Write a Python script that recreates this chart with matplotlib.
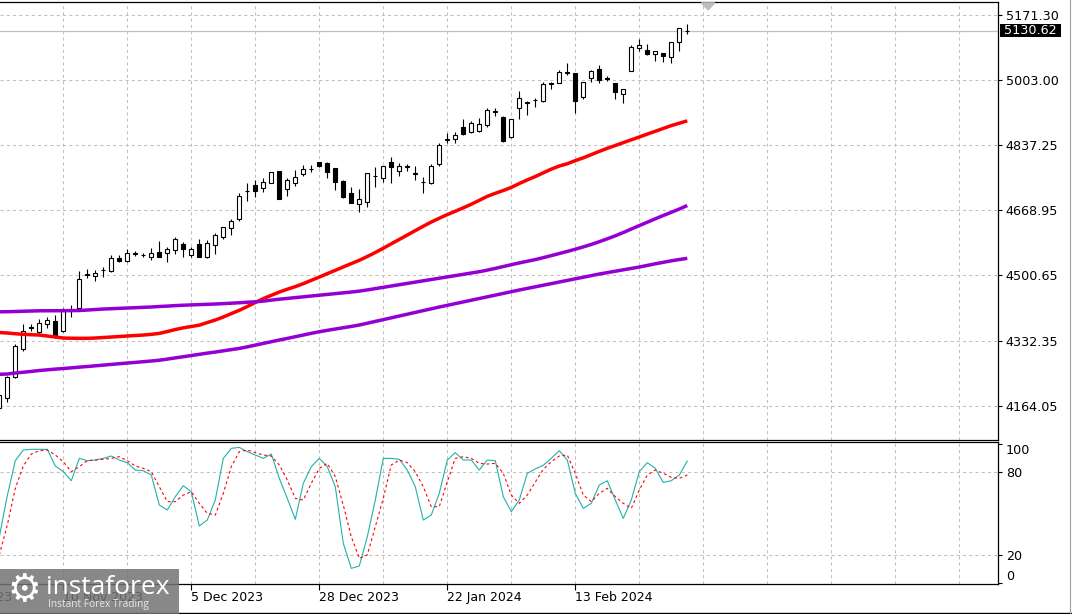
import matplotlib
matplotlib.use('Agg')
import matplotlib.pyplot as plt
from matplotlib.patches import Rectangle
import matplotlib.transforms as mtransforms
import numpy as np

# ---------------- data ----------------
opens = [4158.9, 4185.4, 4239.5, 4310.9, 4368.3, 4355.4, 4374.5, 4382.2, 4356.5, 4410.8,
         4417.3, 4502.8, 4499.7, 4513.6, 4511.8, 4546.1, 4537.6, 4556.6, 4552.2, 4547.1,
         4560.0, 4557.4, 4565.1, 4580.6, 4552.2, 4580.6, 4547.1, 4578.8, 4598.6, 4623.4,
         4646.5, 4717.4, 4734.1, 4724.8, 4739.3, 4768.6, 4722.3, 4737.7, 4761.7, 4773.8,
         4791.8, 4789.2, 4776.4, 4743.6, 4712.0, 4683.6, 4690.3, 4755.7, 4752.1, 4793.4,
         4769.4, 4779.7, 4761.7, 4740.3, 4739.3, 4786.7, 4850.3, 4852.6, 4882.0, 4870.6,
         4872.4, 4887.9, 4921.4, 4908.5, 4857.8, 4930.9, 4944.6, 4951.5, 4950.5, 4994.5,
         4996.9, 5022.9, 5021.1, 4960.8, 5008.2, 5032.2, 5009.0, 4995.3, 4968.5, 5027.8,
         5085.5, 5081.1, 5070.0, 5072.6, 5063.8, 5100.9, 5129.9]
highs = [4205.3, 4241.3, 4323.0, 4375.3, 4374.5, 4387.4, 4393.3, 4398.5, 4417.3, 4424.2,
         4512.6, 4517.0, 4514.4, 4522.9, 4553.0, 4553.0, 4568.5, 4564.1, 4558.9, 4570.3,
         4589.1, 4574.4, 4598.6, 4585.7, 4574.4, 4593.5, 4590.9, 4610.5, 4624.4, 4645.0,
         4712.0, 4737.7, 4746.2, 4750.6, 4768.1, 4769.4, 4750.6, 4772.0, 4784.9, 4784.9,
         4792.6, 4793.4, 4777.1, 4746.2, 4727.4, 4722.3, 4763.5, 4780.5, 4783.6, 4804.7,
         4790.8, 4786.7, 4782.3, 4754.7, 4787.4, 4842.3, 4866.5, 4869.1, 4903.4, 4898.2,
         4905.2, 4930.9, 4930.9, 4911.1, 4903.4, 4976.3, 4949.7, 4958.2, 4999.4, 4999.4,
         5029.6, 5046.8, 5021.9, 4997.9, 5029.6, 5042.5, 5014.1, 4996.1, 4980.6, 5094.0,
         5109.4, 5095.8, 5078.5, 5074.1, 5102.5, 5138.5, 5147.3]
lows = [4151.2, 4174.4, 4237.5, 4306.5, 4357.2, 4351.3, 4365.7, 4340.0, 4354.7, 4394.1,
        4415.2, 4494.5, 4486.8, 4497.1, 4509.2, 4535.8, 4536.3, 4550.4, 4547.1, 4539.4,
        4547.1, 4535.8, 4554.8, 4547.1, 4548.6, 4547.1, 4545.8, 4555.6, 4595.0, 4604.5,
        4641.4, 4692.9, 4703.2, 4716.1, 4738.5, 4698.0, 4705.8, 4731.5, 4757.3, 4766.1,
        4781.0, 4750.6, 4720.5, 4699.1, 4687.7, 4663.0, 4675.9, 4729.0, 4741.8, 4737.7,
        4757.3, 4770.2, 4746.2, 4713.5, 4735.1, 4782.3, 4842.3, 4842.3, 4862.9, 4866.5,
        4870.6, 4883.5, 4911.1, 4844.9, 4853.6, 4902.6, 4913.7, 4933.5, 4947.9, 4980.6,
        4996.9, 5016.7, 4918.0, 4954.9, 4997.9, 4995.3, 5002.0, 4954.9, 4943.8, 5027.3,
        5078.5, 5068.2, 5053.5, 5051.0, 5048.4, 5079.3, 5121.5]
closes = [4192.4, 4238.0, 4319.4, 4358.0, 4364.2, 4378.6, 4384.8, 4346.9, 4413.9, 4412.6,
          4490.4, 4504.6, 4505.9, 4514.9, 4546.1, 4538.3, 4557.4, 4557.9, 4553.5, 4558.2,
          4548.6, 4569.2, 4593.5, 4569.2, 4567.7, 4547.1, 4583.2, 4603.8, 4624.4, 4639.8,
          4705.0, 4718.7, 4718.7, 4741.1, 4766.8, 4698.0, 4746.2, 4753.2, 4773.8, 4775.1,
          4782.3, 4767.6, 4741.8, 4703.2, 4687.7, 4696.5, 4763.5, 4757.0, 4783.1, 4780.5,
          4783.1, 4781.3, 4763.2, 4741.8, 4782.3, 4836.4, 4851.8, 4862.9, 4864.7, 4892.3,
          4889.7, 4926.5, 4923.0, 4846.7, 4903.4, 4958.2, 4946.1, 4952.8, 4992.7, 4996.1,
          5023.7, 5024.4, 4950.5, 4997.9, 5027.0, 5003.8, 5007.4, 4972.1, 4980.6, 5088.1,
          5093.2, 5070.0, 5077.8, 5066.4, 5100.9, 5137.0, 5130.62]

ma_red = [4353.4, 4352.1, 4350.3, 4348.7, 4347.7, 4346.9, 4344.4, 4341.8, 4339.2, 4338.7,
          4338.4, 4338.4, 4339.2, 4340.5, 4341.8, 4343.1, 4344.4, 4345.7, 4346.9, 4348.7,
          4351.1, 4355.9, 4361.1, 4365.5, 4368.8, 4372.4, 4379.1, 4385.6, 4393.3, 4402.1,
          4410.6, 4420.4, 4430.7, 4440.7, 4449.2, 4457.7, 4464.9, 4471.6, 4479.3, 4487.8,
          4496.3, 4505.1, 4513.6, 4522.4, 4530.9, 4539.4, 4549.2, 4559.5, 4570.5, 4581.9,
          4593.2, 4604.5, 4615.9, 4627.2, 4638.0, 4647.8, 4657.1, 4665.8, 4674.6, 4683.9,
          4693.9, 4704.2, 4712.0, 4719.2, 4727.2, 4737.2, 4746.5, 4755.2, 4764.8, 4774.3,
          4782.3, 4788.2, 4796.2, 4803.4, 4811.7, 4819.9, 4827.9, 4835.1, 4842.6, 4849.8,
          4857.0, 4864.5, 4871.7, 4879.1, 4886.4, 4892.5, 4898.7]
ma_purple_upper = [4406.7, 4407.0, 4407.5, 4408.2, 4408.8, 4409.3, 4409.5, 4409.5, 4409.5, 4409.8,
                   4410.1, 4411.3, 4412.6, 4413.9, 4414.7, 4415.7, 4416.5, 4417.3, 4418.3, 4419.1,
                   4420.4, 4421.4, 4422.7, 4423.7, 4424.5, 4425.3, 4426.0, 4426.8, 4427.8, 4428.9,
                   4430.1, 4431.4, 4432.5, 4434.3, 4436.8, 4439.2, 4441.2, 4443.3, 4445.3, 4447.4,
                   4449.5, 4451.5, 4453.6, 4455.6, 4457.7, 4460.0, 4463.1, 4466.5, 4469.8, 4473.2,
                   4476.5, 4479.9, 4483.2, 4486.6, 4489.9, 4493.3, 4496.6, 4500.0, 4503.3, 4506.7,
                   4510.0, 4514.1, 4518.5, 4523.4, 4528.0, 4532.7, 4537.0, 4541.2, 4546.3, 4551.5,
                   4556.9, 4562.3, 4568.0, 4573.9, 4580.3, 4587.3, 4594.8, 4602.5, 4611.0, 4620.0,
                   4628.8, 4637.5, 4646.3, 4654.8, 4663.0, 4671.5, 4680.5]
ma_purple_lower = [4245.7, 4246.5, 4249.1, 4251.1, 4253.2, 4255.5, 4257.3, 4259.1, 4260.6, 4262.4,
                   4264.2, 4265.8, 4267.6, 4269.4, 4271.2, 4273.0, 4274.8, 4276.4, 4278.2, 4280.0,
                   4282.0, 4284.9, 4288.0, 4291.0, 4294.1, 4297.2, 4300.3, 4303.1, 4306.2, 4309.3,
                   4312.4, 4316.5, 4320.9, 4325.3, 4329.7, 4334.1, 4338.2, 4342.6, 4346.9, 4351.3,
                   4355.4, 4359.0, 4362.4, 4365.7, 4369.1, 4372.7, 4377.3, 4382.0, 4386.6, 4391.2,
                   4395.9, 4400.5, 4405.2, 4409.8, 4414.4, 4419.1, 4423.4, 4427.8, 4432.2, 4436.6,
                   4441.0, 4445.3, 4449.7, 4454.1, 4458.5, 4462.9, 4467.0, 4471.1, 4475.2, 4479.3,
                   4483.5, 4487.6, 4491.7, 4495.8, 4500.0, 4504.1, 4507.7, 4511.3, 4514.9, 4518.5,
                   4522.1, 4526.2, 4530.4, 4534.2, 4538.1, 4541.4, 4544.5]

stoch_main = [33.0, 62.7, 87.9, 95.6, 96.1, 96.1, 96.1, 84.1, 80.0, 73.5,
              89.6, 87.9, 88.4, 89.6, 91.3, 88.4, 86.5, 81.2, 80.7, 77.6,
              56.0, 52.4, 62.0, 69.9, 65.6, 40.9, 45.2, 59.6, 89.6, 96.8,
              97.5, 94.4, 92.0, 89.6, 92.7, 75.2, 60.8, 45.7, 71.6, 83.6,
              89.6, 83.6, 69.2, 28.4, 10.4, 12.1, 33.2, 59.6, 89.6, 89.6,
              88.9, 81.2, 69.2, 45.2, 48.8, 64.4, 88.4, 93.7, 88.4, 88.4,
              81.2, 88.4, 87.9, 62.0, 51.2, 59.6, 78.8, 82.0, 84.6, 89.6,
              95.1, 88.4, 64.4, 53.6, 57.2, 70.4, 73.5, 59.6, 46.4, 59.6,
              80.0, 86.5, 82.4, 72.3, 73.5, 77.6, 87.7]
stoch_signal = [20.0, 41.6, 68.0, 84.1, 92.7, 95.1, 95.6, 92.0, 87.2, 80.0,
                83.6, 87.9, 88.4, 88.9, 89.6, 90.8, 87.9, 84.1, 82.4, 80.0,
                69.2, 58.4, 58.4, 63.2, 65.6, 57.2, 50.0, 48.8, 64.4, 83.6,
                94.4, 95.6, 93.7, 92.0, 91.3, 84.8, 74.0, 60.8, 59.6, 71.6,
                82.4, 86.0, 76.4, 56.0, 33.2, 17.6, 20.0, 40.4, 60.8, 84.8,
                88.4, 86.5, 80.0, 69.2, 54.8, 54.8, 72.8, 89.6, 90.8, 89.6,
                86.0, 85.5, 86.0, 78.8, 63.2, 57.2, 63.2, 72.5, 81.7, 87.2,
                91.3, 92.0, 78.8, 63.2, 58.4, 64.4, 68.0, 62.0, 57.2, 53.6,
                66.8, 77.6, 81.2, 78.8, 75.9, 75.2, 77.6]

price_levels = [5171.30, 5003.00, 4837.25, 4668.95, 4500.65, 4332.35, 4164.05]
current_price = 5130.62
stoch_levels = [20, 80]
date_ticks = [8, 24, 40, 56, 72]
date_labels = ['10 Nov 2023', '5 Dec 2023', '28 Dec 2023', '22 Jan 2024', '13 Feb 2024']
hidden_date_tick = -8
hidden_date_label = '19 Oct 2023'

# ---------------- figure ----------------
W, H = 1072, 614
fig = plt.figure(figsize=(W / 100, H / 100), dpi=100)
fig.patch.set_facecolor('white')


def px_axes(left, top, right, bottom):
    return [left / W, 1 - bottom / H, (right - left) / W, (bottom - top) / H]


ax = fig.add_axes(px_axes(0, 2, 998, 439.5))
axs = fig.add_axes(px_axes(0, 442, 998, 584.3))

idx = np.arange(len(opens))
XLIM = (0.0875, 124.84)
GRID = '#c0c0c0'
grid_kw = dict(color=GRID, lw=0.75, ls=(0, (3, 3)), zorder=0)

for a in (ax, axs):
    a.set_xlim(*XLIM)
    a.set_facecolor('white')
    for g in range(8, 125, 8):
        a.axvline(g, **grid_kw)
    for s in ('top', 'right', 'bottom'):
        a.spines[s].set_color('black')
        a.spines[s].set_linewidth(0.9)
    a.spines['left'].set_visible(False)

# ---- main panel ----
ax.set_ylim(4077.8, 5204.8)
for lv in price_levels:
    ax.axhline(lv, **grid_kw)
ax.axhline(current_price, color='#c0c0c0', lw=0.9, zorder=0.5)

for i in idx:
    o, h, l, c = opens[i], highs[i], lows[i], closes[i]
    ax.vlines(i, l, h, color='black', lw=0.8, zorder=2)
    bottom = min(o, c)
    height = max(abs(c - o), 0.6)
    fc = 'white' if c >= o else 'black'
    ax.add_patch(Rectangle((i - 0.27, bottom), 0.54, height, facecolor=fc,
                           edgecolor='black', lw=0.8, zorder=3))

ax.plot(idx, ma_red, color='#ff0000', lw=2.5, zorder=4, solid_capstyle='butt')
ax.plot(idx, ma_purple_upper, color='#9400d3', lw=2.5, zorder=4, solid_capstyle='butt')
ax.plot(idx, ma_purple_lower, color='#9400d3', lw=2.5, zorder=4, solid_capstyle='butt')

ax.yaxis.tick_right()
ax.set_yticks(price_levels)
ax.set_yticklabels([f'{v:.2f}' for v in price_levels])
ax.tick_params(axis='y', direction='out', length=3, width=0.8, pad=2.5,
               labelsize=9.2, colors='black')
ax.set_xticks([])

# current price box
tr = mtransforms.blended_transform_factory(ax.transAxes, ax.transData)
tr_off = tr + mtransforms.ScaledTranslation(2 / 100, 0, fig.dpi_scale_trans)
ax.text(1.0, current_price, ' 5130.62 ', transform=tr_off, ha='left', va='center',
        color='white', fontsize=9.2, clip_on=False, zorder=10,
        bbox=dict(boxstyle='square,pad=0', fc='black', ec='none'))

# chart-shift triangle
last = idx[-1]
tri_tr = mtransforms.blended_transform_factory(ax.transData, ax.transAxes)
ax.fill([last + 1.75, last + 3.45, last + 2.6], [0.998, 0.998, 0.982], color='#bdbdbd',
        transform=tri_tr, zorder=5, clip_on=False)

# ---- stochastic panel ----
axs.set_ylim(-1.08, 101.37)
for lv in stoch_levels:
    axs.axhline(lv, **grid_kw)
axs.plot(idx, stoch_main, color='#20b2aa', lw=0.8, zorder=3)
axs.plot(idx, stoch_signal, color='#ff0000', lw=0.8, ls=(0, (2.5, 2.5)), zorder=4)

axs.yaxis.tick_right()
axs.set_yticks([0, 20, 80, 100])
axs.set_yticklabels(['0', '20', '80', '100'])
axs.tick_params(axis='y', direction='out', length=3, width=0.8, pad=2.5,
                labelsize=9.2, colors='black')
labs = axs.get_yticklabels()
labs[0].set_va('bottom')
labs[3].set_va('top')

axs.set_xticks(date_ticks)
axs.set_xticklabels(date_labels, ha='left')
axs.tick_params(axis='x', direction='out', length=4, width=0.8, pad=1,
                labelsize=9, colors='black')
dtr = mtransforms.blended_transform_factory(axs.transData, axs.transAxes)
axs.text(hidden_date_tick, -0.045, hidden_date_label, transform=dtr, ha='left', va='top',
         fontsize=9, clip_on=False)

# window frame lines
fig.add_artist(plt.Line2D([0, 1], [1 - 612.5 / H, 1 - 612.5 / H], transform=fig.transFigure,
                          color='black', lw=1.0))
fig.add_artist(plt.Line2D([1 - 2.5 / W, 1 - 2.5 / W], [1 - 612.5 / H, 1], transform=fig.transFigure,
                          color='#a0a0a0', lw=0.8))

# watermark logo
fig.add_artist(Rectangle((0, 0), 179 / W, 45 / H, transform=fig.transFigure,
                         facecolor='#737373', edgecolor='none', alpha=0.85, zorder=20))
fig.text(24 / W, 1 - 591 / H, '\u2699', color='white', fontsize=27, ha='center', va='center',
         zorder=21, family='DejaVu Sans')
fig.text(46 / W, 1 - 587 / H, 'instaforex', color='white', fontsize=19, ha='left',
         va='center', zorder=21, family='Open Sans')
fig.text(48 / W, 1 - 605 / H, 'Instant Forex Trading', color='#e8e8e8', fontsize=7.3,
         ha='left', va='center', zorder=21, family='Open Sans')

fig.savefig('out.png', dpi=100, facecolor='white')
